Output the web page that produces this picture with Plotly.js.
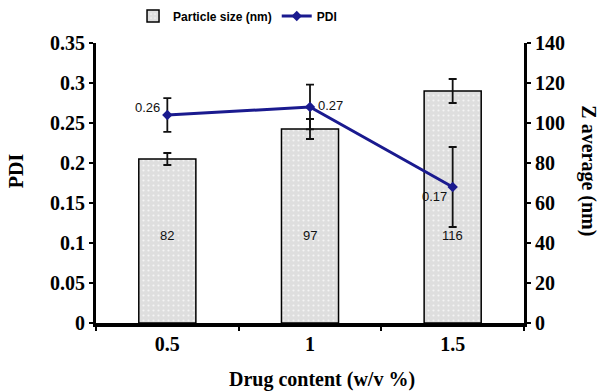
<!DOCTYPE html>
<html><head><meta charset="utf-8">
<script src="https://cdn.plot.ly/plotly-3.0.1.min.js"></script>
<style>html,body{margin:0;padding:0;background:#fff}</style>
</head><body>
<div id="chart" style="width:608px;height:391px"></div>
<script>
const categories = ['0.5', '1', '1.5'];
const particleSize = [82, 97, 116];
const particleSizeErr = [3, 5, 6];
const pdi = [0.26, 0.27, 0.17];
const pdiErr = [0.021, 0.028, 0.05];
const pdiLabels = ['0.26', '0.27', '0.17'];
const sizeLabels = ['82', '97', '116'];

const serif = 'Liberation Serif, Times New Roman, serif';
const sans = 'Arial, Liberation Sans, sans-serif';

const bars = {
  type: 'bar', name: 'Particle size (nm)', x: categories, y: particleSize, yaxis: 'y',
  width: 0.4,
  marker: {color: '#dedede', line: {color: '#000', width: 1.5},
    pattern: {shape: '.', fgcolor: '#f4f4f4', bgcolor: '#dedede', size: 5, solidity: 0.15}},
  error_y: {type: 'data', array: particleSizeErr, visible: true, color: '#111', thickness: 1.8, width: 4},
  hoverinfo: 'none'
};
const line = {
  type: 'scatter', mode: 'lines+markers', name: 'PDI', x: categories, y: pdi, yaxis: 'y2',
  line: {color: '#1a1a8f', width: 3},
  marker: {symbol: 'diamond', size: 8, color: '#1a1a8f'},
  error_y: {type: 'data', array: pdiErr, visible: true, color: '#111', thickness: 1.8, width: 4},
  cliponaxis: false
};

const annotations = [];
// bar value labels (x = category index)
sizeLabels.forEach((t, i) => annotations.push({
  x: i, xref: 'x', y: 0.279, yref: 'paper', text: t, showarrow: false,
  font: {family: sans, size: 13, color: '#111'}
}));
// PDI labels
const pdiShift = [{xa: 'right', xs: -5, ys: 8}, {xa: 'left', xs: 6, ys: 2}, {xa: 'right', xs: -4, ys: -9}];
pdiLabels.forEach((t, i) => annotations.push({
  x: i, xref: 'x', y: pdi[i], yref: 'y2', text: t, showarrow: false,
  xanchor: pdiShift[i].xa, xshift: pdiShift[i].xs, yshift: pdiShift[i].ys,
  font: {family: sans, size: 13, color: '#111'}
}));
// axis titles
annotations.push({text: '<b>PDI</b>', xref: 'paper', yref: 'paper', x: -0.185, y: 0.545,
  xanchor: 'center', yanchor: 'middle',
  textangle: -90, showarrow: false, font: {family: serif, size: 20, color: '#000'}});
annotations.push({text: '<b>Z average (nm)</b>', xref: 'paper', yref: 'paper', x: 1.152, y: 0.545,
  xanchor: 'center', yanchor: 'middle',
  textangle: 90, showarrow: false, font: {family: serif, size: 20, color: '#000'}});
annotations.push({text: '<b>Drug content (w/v %)</b>', xref: 'paper', yref: 'paper', x: 0.528, y: -0.2,
  xanchor: 'center', yanchor: 'middle',
  showarrow: false, font: {family: serif, size: 20, color: '#000'}});

const tickFont = {family: serif, size: 20, color: '#000', weight: 'bold'};

const layout = {
  width: 608, height: 391,
  margin: {l: 96, r: 84, t: 43, b: 68},
  paper_bgcolor: '#fff', plot_bgcolor: '#fff',
  showlegend: true,
  legend: {orientation: 'h', xref: 'container', yref: 'container', x: 0.2188, y: 0.959,
    xanchor: 'left', yanchor: 'middle',
    font: {family: sans, size: 12, color: '#000', weight: 'bold'},
    bgcolor: 'rgba(0,0,0,0)', itemwidth: 30},
  annotations: annotations,
  xaxis: {
    type: 'category', range: [-0.5, 2.5], automargin: false,
    showline: true, linecolor: '#000', linewidth: 4,
    ticks: 'outside', tickson: 'boundaries', ticklen: 4, tickwidth: 2, tickcolor: '#000',
    tickfont: tickFont,
    showgrid: false, zeroline: false
  },
  yaxis: {
    side: 'right', range: [0, 140], dtick: 20, automargin: false,
    showline: true, linecolor: '#000', linewidth: 3,
    ticks: 'outside', ticklen: 4, tickwidth: 2, tickcolor: '#000',
    tickfont: tickFont,
    showgrid: false, zeroline: false
  },
  yaxis2: {
    overlaying: 'y', side: 'left', range: [0, 0.35], dtick: 0.05, automargin: false,
    showline: true, linecolor: '#000', linewidth: 3,
    ticks: 'outside', ticklen: 4, tickwidth: 2, tickcolor: '#000',
    tickfont: tickFont,
    showgrid: false, zeroline: false
  }
};

Plotly.newPlot('chart', [bars, line], layout, {displayModeBar: false, staticPlot: true});
</script>
</body></html>
